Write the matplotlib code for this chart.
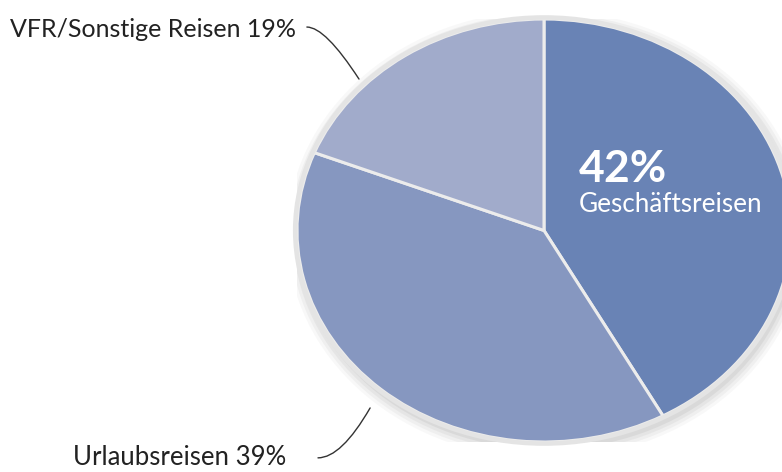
import matplotlib.pyplot as plt
from matplotlib.patches import Ellipse

# Daten
kategorien = ["Geschäftsreisen", "Urlaubsreisen", "VFR/Sonstige Reisen"]
anteile = [42, 39, 19]
farben = ["#6983b5", "#8697c0", "#a1abcb"]

plt.rcParams['font.family'] = ['Lato', 'DejaVu Sans']

fig = plt.figure(figsize=(7.82, 4.72), dpi=100)
# Achse so legen, dass der Kuchen als Ellipse erscheint (rechts abgeschnitten)
ax = fig.add_axes([297 / 782, 30 / 472, 494 / 782, 423 / 472])

wedges, _ = ax.pie(anteile, colors=farben, startangle=90, counterclock=False,
                   radius=1, center=(0, 0),
                   wedgeprops=dict(edgecolor='#ececec', linewidth=2.2))
ax.set_aspect('auto')
ax.set_xlim(-1, 1)
ax.set_ylim(-1, 1)
ax.axis('off')
for w in wedges:
    w.set_zorder(2)

# weicher Schatten + heller Rand
for i, a in enumerate([0.04, 0.05, 0.06, 0.08]):
    s = Ellipse((0.01, -0.02), 2.0 + 0.025 * (4 - i), 2.0 + 0.03 * (4 - i),
                facecolor='#555555', edgecolor='none', alpha=a, zorder=0)
    ax.add_patch(s)
ax.add_patch(Ellipse((0, 0), 2.015, 2.015, facecolor='none', edgecolor='#e4e4e4',
                     linewidth=3.2, zorder=3, clip_on=False))

# Beschriftung im großen Segment
ax.text(0.142, 0.229, f"{anteile[0]}%", color='white', fontsize=32,
        fontweight='bold', ha='left', va='baseline', zorder=5)
ax.text(0.142, 0.087, kategorien[0], color='white', fontsize=18.8,
        ha='left', va='baseline', zorder=5)

# Außenbeschriftungen mit Führungslinien
ax.text(-1.004, 0.915, f"{kategorien[2]} {anteile[2]}%", color='#222222',
        fontsize=18, ha='right', va='baseline', clip_on=False)
ax.annotate('', xy=(-0.749, 0.716), xytext=(-0.960, 0.962),
            arrowprops=dict(arrowstyle='-', color='#333333', lw=1,
                            shrinkA=0, shrinkB=0,
                            connectionstyle='angle3,angleA=0,angleB=-57'),
            annotation_clip=False)

ax.text(-1.045, -1.11, f"{kategorien[1]} {anteile[1]}%", color='#222222',
        fontsize=18.5, ha='right', va='baseline', clip_on=False)
ax.annotate('', xy=(-0.704, -0.839), xytext=(-0.915, -1.075),
            arrowprops=dict(arrowstyle='-', color='#333333', lw=1,
                            shrinkA=0, shrinkB=0,
                            connectionstyle='angle3,angleA=0,angleB=60'),
            annotation_clip=False)

fig.savefig('out.png', dpi=100)
